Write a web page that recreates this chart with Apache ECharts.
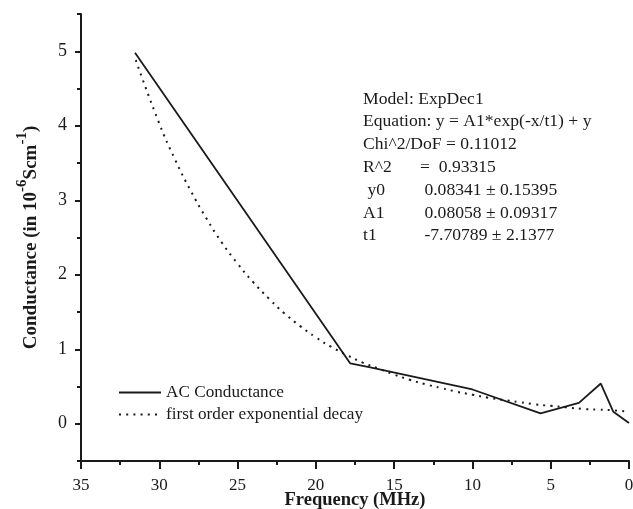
<!DOCTYPE html>
<html>
<head>
<meta charset="utf-8">
<script src="https://cdn.jsdelivr.net/npm/echarts@6/dist/echarts.min.js"></script>
<style>
  html, body { margin: 0; padding: 0; background: #fff; }
  #main { width: 633px; height: 509px; }
</style>
</head>
<body>
<div id="main"></div>
<script>
// AC conductance (MHz, 10^-6 S/cm)
var acFreq = [31.55, 17.8, 16.6, 10.0, 5.65, 3.2, 1.8, 1.0, 0];
var acValue = [4.98, 0.81, 0.76, 0.46, 0.14, 0.28, 0.54, 0.16, 0.01];

// first order exponential decay fit
var fitFreq = [31.5, 30, 29, 28, 27, 26, 25, 24, 23, 22, 21, 20, 19, 18, 17, 16, 15, 14, 13, 12, 11, 10, 9, 8, 7, 6, 5, 4, 3, 2, 1, 0];
var fitValue = [4.88, 4.03, 3.55, 3.13, 2.76, 2.43, 2.15, 1.90, 1.68, 1.48, 1.31, 1.16, 1.03, 0.92, 0.82, 0.74, 0.66, 0.59, 0.53, 0.48, 0.43, 0.39, 0.35, 0.32, 0.29, 0.26, 0.24, 0.22, 0.20, 0.19, 0.18, 0.16];

var yMajor = [0, 1, 2, 3, 4, 5];

// fit report: [label, value]
var fitText = [
    ['Model: ExpDec1', ''],
    ['Equation: y = A1*exp(-x/t1) + y', ''],
    ['Chi^2/DoF = 0.11012', ''],
    ['R^2', '=  0.93315'],
    [' y0', ' 0.08341 \u00b1 0.15395'],
    ['A1', ' 0.08058 \u00b1 0.09317'],
    ['t1', ' -7.70789 \u00b1 2.1377']
];

function pairs(xs, ys) {
    return xs.map(function (x, i) { return [x, ys[i]]; });
}

var serif = '"Liberation Serif", "DejaVu Serif", serif';
var ink = '#1a1a1a';

var myChart = echarts.init(document.getElementById('main'));

var graphics = [];
fitText.forEach(function (row, i) {
    graphics.push({
        type: 'text', left: 363, top: 90 + i * 22.8,
        style: { text: row[0], fontFamily: serif, fontSize: 17.6, fill: ink }
    });
    if (row[1]) {
        graphics.push({
            type: 'text', left: 420, top: 90 + i * 22.8,
            style: { text: row[1], fontFamily: serif, fontSize: 17.6, fill: ink }
        });
    }
});

var option = {
    animation: false,
    backgroundColor: '#fff',
    grid: { left: 81, right: 4, top: 14, bottom: 48, outerBoundsMode: 'none', containLabel: false },
    legend: {
        orient: 'vertical',
        left: 113,
        top: 379,
        itemWidth: 42,
        itemHeight: 10,
        itemGap: 5,
        itemStyle: { opacity: 0 },
        textStyle: { fontFamily: serif, fontSize: 17.2, color: ink },
        data: ['AC Conductance', 'first order exponential decay']
    },
    xAxis: {
        type: 'value',
        inverse: true,
        min: 0,
        max: 35,
        interval: 5,
        name: 'Frequency (MHz)',
        nameLocation: 'middle',
        nameGap: 30,
        nameMoveOverlap: false,
        nameTextStyle: { fontFamily: serif, fontSize: 18.5, fontWeight: 'bold', color: ink },
        axisLine: { onZero: false, lineStyle: { color: ink, width: 2 } },
        axisTick: { inside: false, length: 8, lineStyle: { color: ink, width: 2 } },
        minorTick: { show: true, splitNumber: 2, length: 4, lineStyle: { color: ink, width: 2 } },
        axisLabel: { fontFamily: serif, fontSize: 17, color: ink, margin: 16 },
        splitLine: { show: false }
    },
    yAxis: [{
        type: 'value',
        position: 'left',
        min: -0.5,
        max: 5.5,
        interval: 0.5,
        name: '{b|Conductance (in 10}{s|-6}{b|Scm}{s|-1}{b|)}',
        nameLocation: 'middle',
        nameGap: 40,
        nameTextStyle: {
            rich: {
                b: { fontFamily: serif, fontSize: 19, fontWeight: 'bold', color: ink, lineHeight: 26, verticalAlign: 'bottom' },
                s: { fontFamily: serif, fontSize: 15, fontWeight: 'bold', color: ink, lineHeight: 26, verticalAlign: 'top' }
            }
        },
        axisLine: { show: true, onZero: false, lineStyle: { color: ink, width: 2 } },
        axisTick: { show: true, length: 4, lineStyle: { color: ink, width: 2 } },
        axisLabel: {
            fontFamily: serif, fontSize: 18, color: ink, margin: 14,
            formatter: function (v) { return Math.abs(v - Math.round(v)) < 1e-6 ? String(Math.round(v)) : ''; }
        },
        splitLine: { show: false }
    }, {
        type: 'value',
        position: 'left',
        min: -0.5,
        max: 5.5,
        axisLine: { show: false, onZero: false },
        axisTick: { show: true, length: 6, customValues: yMajor, lineStyle: { color: ink, width: 2 } },
        axisLabel: { show: false },
        splitLine: { show: false }
    }],
    graphic: graphics,
    series: [{
        name: 'AC Conductance',
        type: 'line',
        data: pairs(acFreq, acValue),
        showSymbol: false,
        symbol: 'none',
        lineStyle: { color: ink, width: 1.8 },
        itemStyle: { color: ink }
    }, {
        name: 'first order exponential decay',
        type: 'line',
        data: pairs(fitFreq, fitValue),
        showSymbol: false,
        symbol: 'none',
        smooth: true,
        lineStyle: { color: ink, width: 2, type: [2, 5.2] },
        itemStyle: { color: ink }
    }]
};

option && myChart.setOption(option);
</script>
</body>
</html>
